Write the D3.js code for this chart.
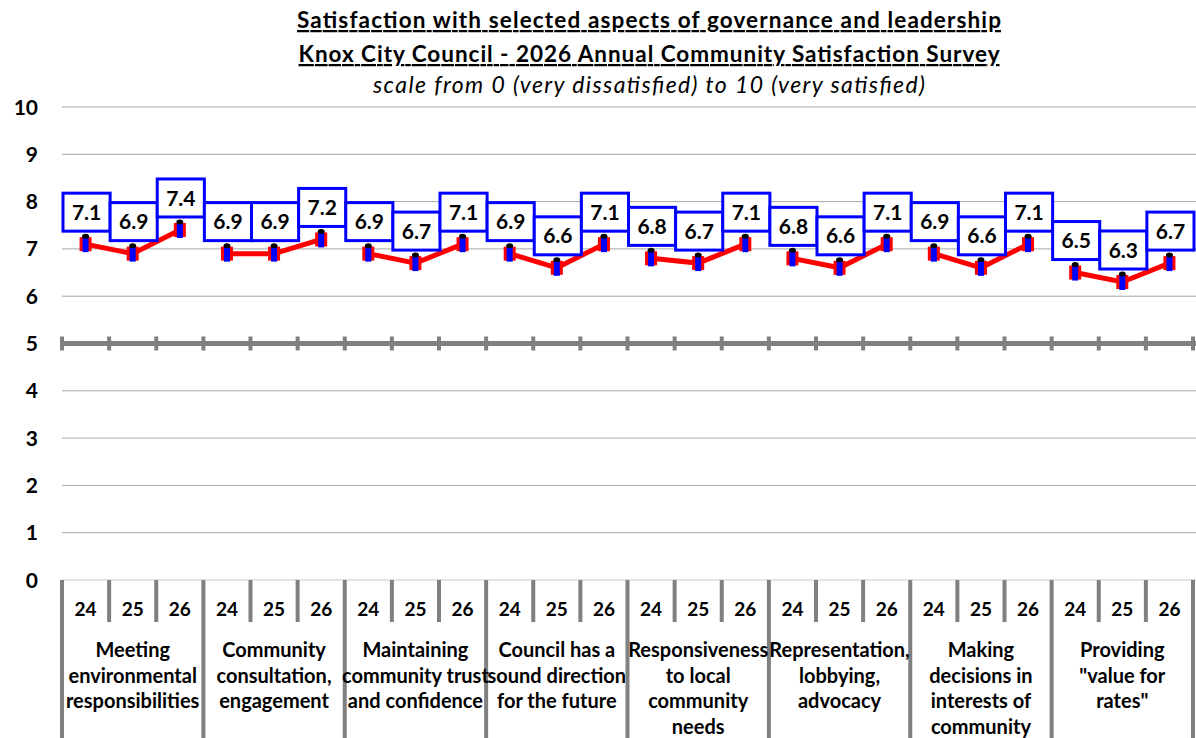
<!DOCTYPE html>
<html>
<head>
<meta charset="utf-8">
<script src="https://cdn.jsdelivr.net/npm/d3@7"></script>
<style>
  body { margin: 0; background: #fff; }
  svg { display: block; font-family: Lato, "Open Sans", sans-serif; }
</style>
</head>
<body>
<script>
// aspects (group labels, wrapped as in the original)
const aspects = [
  ["Meeting", "environmental", "responsibilities"],
  ["Community", "consultation,", "engagement"],
  ["Maintaining", "community trust", "and confidence"],
  ["Council has a", "sound direction", "for the future"],
  ["Responsiveness", "to local", "community", "needs"],
  ["Representation,", "lobbying,", "advocacy"],
  ["Making", "decisions in", "interests of", "community"],
  ["Providing", "\"value for", "rates\""]
];
const years = ["24", "25", "26"];

// mean scores per aspect, 2024 / 2025 / 2026
const scores = [
  [7.1, 6.9, 7.4],
  [6.9, 6.9, 7.2],
  [6.9, 6.7, 7.1],
  [6.9, 6.6, 7.1],
  [6.8, 6.7, 7.1],
  [6.8, 6.6, 7.1],
  [6.9, 6.6, 7.1],
  [6.5, 6.3, 6.7]
];
const yTicks = [0, 1, 2, 3, 4, 5, 6, 7, 8, 9, 10];

const width = 1196, height = 738;
const svg = d3.select("body").append("svg")
    .attr("width", width)
    .attr("height", height);

// flatten into one point per column
const points = [];
scores.forEach((row, g) => row.forEach((v, i) => points.push({ g, i, key: g * 3 + i, value: v })));

const x = d3.scaleBand()
    .domain(points.map(d => d.key))
    .range([62, 1193])
    .paddingInner(0).paddingOuter(0);

const y = d3.scaleLinear()
    .domain([0, 10])
    .range([580, 107]);

// titles
const titles = svg.append("g").attr("text-anchor", "middle");
titles.append("text")
    .attr("x", 649).attr("y", 28)
    .attr("font-size", 22.5).attr("font-weight", "bold")
    .attr("text-decoration", "underline")
    .attr("textLength", 704).attr("lengthAdjust", "spacing")
    .text("Satisfaction with selected aspects of governance and leadership");
titles.append("text")
    .attr("x", 649).attr("y", 62)
    .attr("font-size", 22.5).attr("font-weight", "bold")
    .attr("text-decoration", "underline")
    .attr("textLength", 701).attr("lengthAdjust", "spacing")
    .text("Knox City Council - 2026 Annual Community Satisfaction Survey");
titles.append("text")
    .attr("x", 649).attr("y", 93)
    .attr("font-size", 23).attr("font-style", "italic")
    .attr("textLength", 552).attr("lengthAdjust", "spacing")
    .text("scale from 0 (very dissatisfied) to 10 (very satisfied)");

// gridlines
svg.append("g")
  .selectAll("line")
  .data(yTicks.filter(t => t !== 5))
  .join("line")
    .attr("x1", 62).attr("x2", width)
    .attr("y1", d => y(d)).attr("y2", d => y(d))
    .attr("stroke", d => d === 0 ? "#c8c8c8" : "#a6a6a6")
    .attr("stroke-width", 1);

// y labels
svg.append("g")
  .selectAll("text")
  .data(yTicks)
  .join("text")
    .attr("x", 38)
    .attr("y", d => y(d))
    .attr("dy", "0.36em")
    .attr("text-anchor", "end")
    .attr("font-size", 21).attr("font-weight", "bold")
    .text(d => d);

// thick midpoint line at 5 with ticks
const boundaries = d3.range(25).map(k => k < 24 ? x(k) : x(23) + x.bandwidth());
svg.append("line")
    .attr("x1", 62).attr("x2", width)
    .attr("y1", y(5)).attr("y2", y(5))
    .attr("stroke", "#808080").attr("stroke-width", 5);
svg.append("g")
  .selectAll("line")
  .data(boundaries)
  .join("line")
    .attr("x1", d => d).attr("x2", d => d)
    .attr("y1", y(5) - 7).attr("y2", y(5) + 7)
    .attr("stroke", "#808080").attr("stroke-width", 4);

// category axis ticks
svg.append("g")
  .selectAll("line")
  .data(boundaries)
  .join("line")
    .attr("x1", d => d).attr("x2", d => d)
    .attr("y1", y(0))
    .attr("y2", (d, k) => k % 3 === 0 ? height : 622)
    .attr("stroke", "#808080").attr("stroke-width", 4);

// year labels
svg.append("g")
  .selectAll("text")
  .data(points)
  .join("text")
    .attr("x", d => x(d.key) + x.bandwidth() / 2)
    .attr("y", 609)
    .attr("dy", "0.36em")
    .attr("text-anchor", "middle")
    .attr("font-size", 19).attr("font-weight", "bold")
    .text(d => years[d.i]);

// aspect labels
const aspectG = svg.append("g")
  .selectAll("text")
  .data(aspects)
  .join("text")
    .attr("text-anchor", "middle")
    .attr("font-size", 20).attr("font-weight", "bold");
aspectG.selectAll("tspan")
  .data((lines, g) => lines.map(t => ({ t, g })))
  .join("tspan")
    .attr("x", d => x(d.g * 3 + 1) + x.bandwidth() / 2)
    .attr("y", (d, j) => 657 + j * 25.5)
    .text(d => d.t);

// red lines per aspect
const line = d3.line()
    .x(d => x(d.key) + x.bandwidth() / 2)
    .y(d => y(d.value));
svg.append("g")
  .selectAll("path")
  .data(d3.groups(points, d => d.g))
  .join("path")
    .attr("d", ([, pts]) => line(pts))
    .attr("fill", "none")
    .attr("stroke", "#ff0000")
    .attr("stroke-width", 5);

// markers
const mk = svg.append("g")
  .selectAll("g")
  .data(points)
  .join("g")
    .attr("transform", d => `translate(${x(d.key) + x.bandwidth() / 2},${y(d.value)})`);
mk.append("rect")
    .attr("x", -6).attr("y", -7).attr("width", 12).attr("height", 14)
    .attr("fill", "#ff0000");
mk.append("rect")
    .attr("x", -3).attr("y", -8).attr("width", 6).attr("height", 16)
    .attr("fill", "#0000ff");
mk.append("ellipse")
    .attr("cx", 0).attr("cy", -8).attr("rx", 3.5).attr("ry", 2.5)
    .attr("fill", "#000");

// value boxes
const box = svg.append("g")
  .selectAll("g")
  .data(points)
  .join("g")
    .attr("transform", d => `translate(${x(d.key)},${y(d.value) - 13})`);
box.append("rect")
    .attr("x", 1).attr("y", -38)
    .attr("width", x.bandwidth()).attr("height", 38)
    .attr("fill", "#fff")
    .attr("stroke", "#0000ff").attr("stroke-width", 3);
box.append("text")
    .attr("x", x.bandwidth() / 2 + 1).attr("y", -19)
    .attr("dy", "0.36em")
    .attr("text-anchor", "middle")
    .attr("font-size", 21).attr("font-weight", "bold")
    .text(d => d3.format(".1f")(d.value));
</script>
</body>
</html>
